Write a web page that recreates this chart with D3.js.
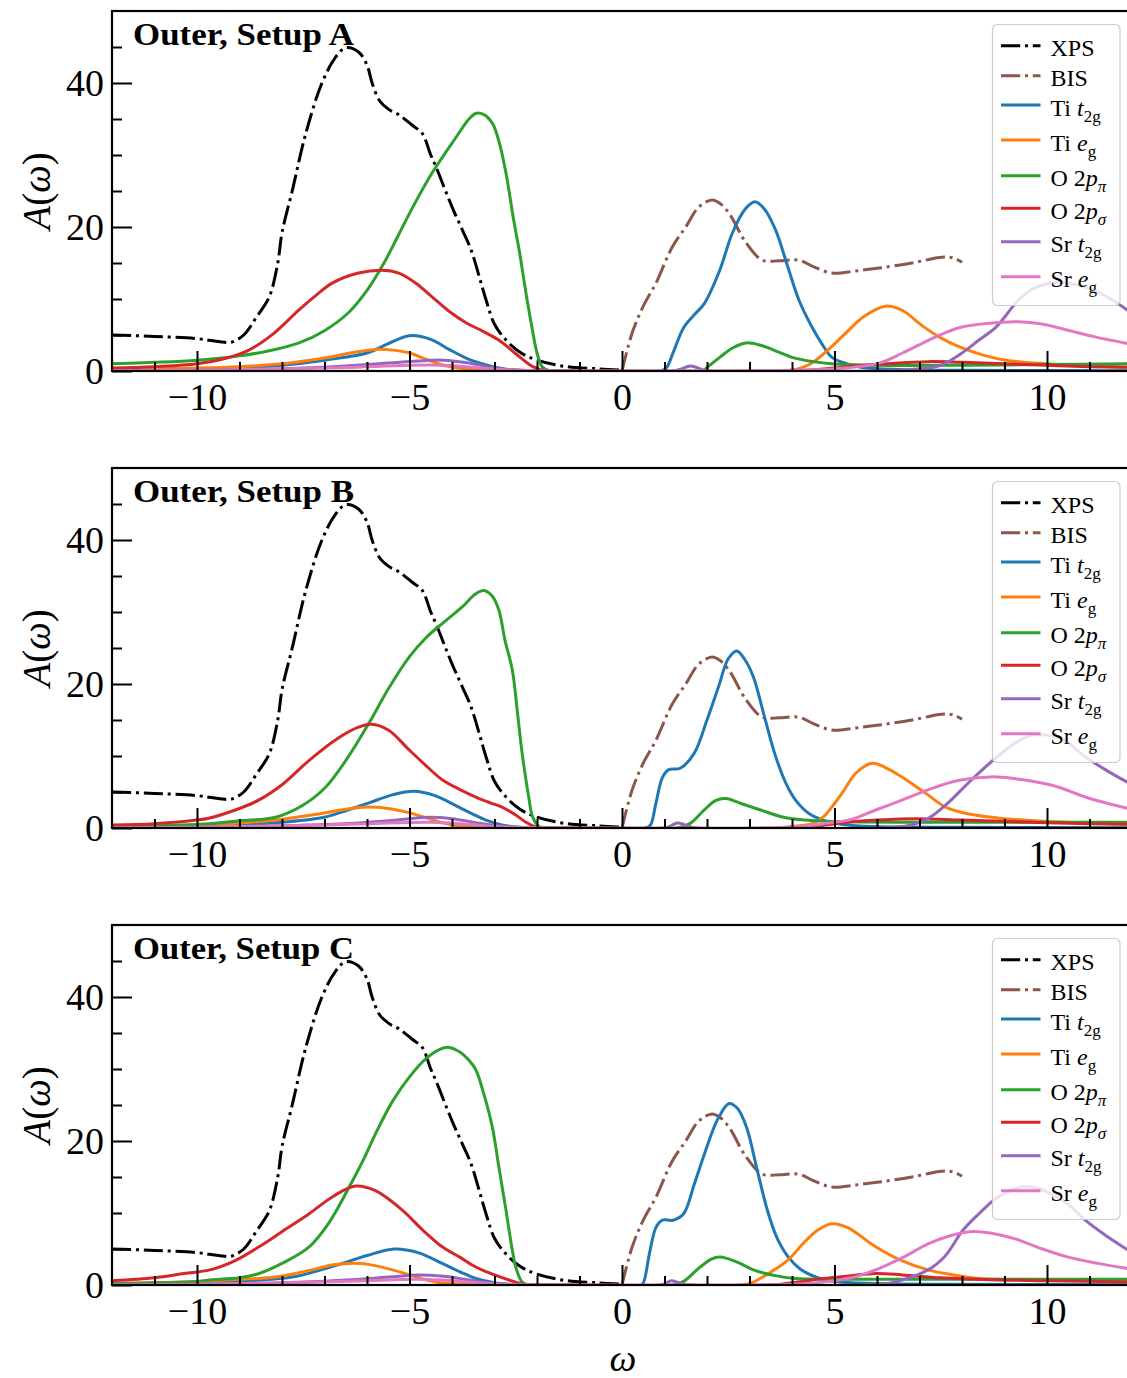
<!DOCTYPE html>
<html><head><meta charset="utf-8">
<script src="https://cdn.jsdelivr.net/npm/d3@7"></script>
<style>
body{margin:0;background:#fff}
svg{display:block}
text{font-family:"Liberation Serif","DejaVu Serif",serif;fill:#000}
</style>
</head><body>
<svg id="c" width="1127" height="1378"></svg>
<script>
// ---------- data (omega, A) ----------
const panelTitles = ["Outer, Setup A", "Outer, Setup B", "Outer, Setup C"];
const xMajorTicks = [-10, -5, 0, 5, 10];
const xMinorTicks = [-11,-9,-8,-7,-6,-4,-3,-2,-1,1,2,3,4,6,7,8,9,11];
const yMajorTicks = [0, 20, 40];
const yMinorTicks = [5, 10, 15, 25, 30, 35, 45];

const xps = [[-12,5.0],[-11,4.8],[-10,4.5],[-9.5,4.1],[-9.2,4.0],[-8.9,5.0],[-8.6,7.5],[-8.3,10.3],[-8.1,15],[-8.0,19.2],[-7.76,25],[-7.44,33],[-7.06,40],[-6.75,43.5],[-6.5,44.9],[-6.2,44.3],[-6.0,42.5],[-5.88,40],[-5.7,37.5],[-5.48,36.3],[-5.25,35.6],[-4.95,34.2],[-4.7,33],[-4.5,30],[-4.38,28.4],[-4.0,22.8],[-3.75,19.5],[-3.55,16.8],[-3.2,9.9],[-3.0,6.5],[-2.73,4.3],[-2.4,2.6],[-2.0,1.5],[-1.3,0.6],[-0.54,0.3],[0,0.1]];
const bis = [[0,0],[0.24,5.3],[0.5,9],[0.8,12.2],[1.18,17.2],[1.5,20],[1.81,22.8],[2.12,23.75],[2.3,23.3],[2.52,21.9],[2.92,17.8],[3.3,15.4],[3.7,15.3],[4.16,15.4],[4.5,14.5],[4.94,13.6],[5.5,13.9],[6.05,14.3],[6.82,15],[7.53,15.8],[7.8,15.7],[8.0,15.1]];

// Setup A
const tiT2gA = [[-12,0.1],[-10,0.2],[-9,0.4],[-8,0.8],[-7,1.5],[-6,2.5],[-5.5,3.8],[-5,4.9],[-4.5,4.4],[-4.07,3.0],[-3.6,1.6],[-3.3,1.0],[-2.8,0.3],[-2.2,0.05],[-1,0],[0.9,0],[1.04,0.4],[1.2,2.5],[1.45,6.0],[1.7,7.8],[1.94,9.4],[2.3,14],[2.6,19.2],[2.9,22.5],[3.13,23.5],[3.35,22.5],[3.62,19.5],[3.9,14.5],[4.16,9.9],[4.47,6.1],[4.7,3.8],[4.94,1.9],[5.3,1.0],[5.65,0.5],[6.5,0.2],[8,0.1],[12,0.05]];
const tiEgA = [[-12,0.2],[-10,0.4],[-9,0.6],[-8,1.0],[-7,1.8],[-6.3,2.6],[-5.8,3.0],[-5.4,2.9],[-5.0,2.5],[-4.6,1.6],[-4.2,0.8],[-3.7,0.3],[-3,0.05],[-1,0],[3.8,0],[4.2,0.4],[4.47,1.1],[4.9,3.2],[5.27,5.3],[5.7,7.6],[6.2,9.0],[6.6,8.4],[7.06,6.3],[7.5,4.6],[8.0,3.2],[8.5,2.2],[9.03,1.5],[10,1.0],[11,0.7],[12,0.5]];
const oPiA = [[-12,1.0],[-11,1.2],[-10,1.5],[-9,2.1],[-8.3,2.8],[-7.6,3.9],[-7,5.6],[-6.42,8.2],[-6,11.2],[-5.6,15.0],[-5.25,19],[-4.9,23],[-4.47,27.5],[-3.9,32.5],[-3.6,35],[-3.43,35.8],[-3.25,35.6],[-3.05,34.4],[-2.9,32],[-2.73,27.5],[-2.55,21],[-2.42,16.8],[-2.25,10.5],[-2.12,6.1],[-2.0,2.5],[-1.88,0.6],[-1.7,0.05],[1.9,0],[2.0,0.5],[2.3,1.9],[2.6,3.2],[2.92,3.9],[3.3,3.5],[3.7,2.6],[4.0,1.9],[4.5,1.3],[4.94,1.0],[6,0.8],[8,0.8],[10,0.9],[12,1.0]];
const oSigA = [[-12,0.4],[-11,0.6],[-10,1.0],[-9.3,1.8],[-8.78,2.9],[-8.2,5.2],[-7.6,8.5],[-7.2,10.5],[-6.82,12.2],[-6.2,13.6],[-5.65,14.0],[-5.25,13.6],[-4.85,12.2],[-4.47,10.3],[-4.07,8.3],[-3.67,6.7],[-3.3,5.6],[-2.9,4.3],[-2.5,2.4],[-2.1,0.6],[-1.8,0.05],[0,0],[4,0],[4.6,0.2],[5.3,0.6],[6.2,1.0],[7.2,1.3],[8,1.2],[9,1.0],[10,0.8],[11,0.6],[12,0.5]];
const srT2gA = [[-12,0.05],[-10,0.1],[-8,0.3],[-6.5,0.7],[-5.5,1.1],[-4.8,1.4],[-4.2,1.5],[-3.6,1.1],[-3.0,0.4],[-2.4,0.1],[-1,0],[1.2,0],[1.4,0.3],[1.6,0.7],[1.8,0.4],[2.0,0.05],[6,0],[6.8,0.2],[7.5,0.8],[8.0,2.5],[8.4,4.3],[8.8,6.1],[9.34,9.9],[9.7,11.5],[10.2,12.3],[10.6,12.1],[11.06,11.3],[11.5,10],[12,8.0]];
const srEgA = [[-12,0.05],[-10,0.1],[-8,0.3],[-6.5,0.5],[-5,0.8],[-4.2,0.8],[-3.5,0.5],[-2.8,0.2],[-2,0.05],[0,0],[4,0.1],[5,0.3],[6.05,1.1],[6.6,2.5],[7.22,4.3],[7.6,5.3],[8.0,6.1],[8.6,6.6],[9.25,6.85],[9.6,6.75],[10,6.4],[10.6,5.5],[11.15,4.7],[12,3.7]];

// Setup B
const tiT2gB = [[-12,0.1],[-10,0.2],[-9,0.4],[-8,0.8],[-7,1.5],[-6.5,2.4],[-5.95,3.5],[-5.4,4.6],[-4.9,5.1],[-4.4,4.5],[-3.84,2.9],[-3.5,1.9],[-3.2,1.1],[-2.8,0.4],[-2.3,0.05],[-1,0],[0.55,0],[0.67,0.4],[0.8,3.5],[0.95,7.0],[1.1,8.1],[1.37,8.3],[1.7,10.4],[2.0,15],[2.27,19.6],[2.5,23.5],[2.7,24.6],[2.9,23.3],[3.09,21],[3.35,15.5],[3.59,10.4],[3.85,6.3],[4.08,3.9],[4.4,2.0],[4.73,1.1],[5.2,0.5],[6,0.2],[8,0.1],[12,0.05]];
const tiEgB = [[-12,0.2],[-10,0.4],[-9,0.7],[-8.15,1.1],[-7.2,1.9],[-6.5,2.6],[-6.0,2.9],[-5.5,2.7],[-5.0,2.1],[-4.6,1.4],[-4.2,0.7],[-3.7,0.2],[-3,0.05],[-1,0],[3.6,0],[4.0,0.2],[4.47,0.6],[4.73,1.5],[5.0,3.4],[5.23,5.3],[5.5,7.6],[5.88,9.0],[6.2,8.4],[6.5,7.4],[6.79,6.3],[7.2,4.6],[7.61,2.9],[8.2,1.9],[8.84,1.4],[10,0.9],[11,0.7],[12,0.5]];
const oPiB = [[-12,0.2],[-11,0.3],[-10,0.5],[-9.7,0.6],[-9,1.0],[-8.15,1.5],[-7.5,3.2],[-6.97,5.7],[-6.45,9.8],[-5.95,14.6],[-5.5,19.3],[-5.0,23.8],[-4.6,26.5],[-4.23,28.4],[-3.76,30.7],[-3.45,32.5],[-3.25,33.0],[-3.05,32.2],[-2.9,30.3],[-2.75,26],[-2.58,21.9],[-2.45,15.5],[-2.35,10.4],[-2.2,4.5],[-2.1,1.5],[-1.95,0.2],[-1.7,0],[1.3,0],[1.62,0.7],[1.9,2.3],[2.2,3.8],[2.44,4.1],[2.8,3.4],[3.26,2.5],[3.8,1.5],[4.32,1.1],[5,0.9],[7,0.8],[10,0.8],[12,0.8]];
const oSigB = [[-12,0.4],[-11,0.6],[-10,1.1],[-9.7,1.4],[-9.1,2.5],[-8.54,3.9],[-8.0,6.0],[-7.36,9.4],[-6.7,12.4],[-6.2,14.0],[-5.9,14.4],[-5.5,13.6],[-5.0,10.8],[-4.6,8.6],[-4.23,6.7],[-3.8,5.3],[-3.44,4.3],[-3.1,3.5],[-2.82,2.9],[-2.5,1.8],[-2.26,0.8],[-2.0,0.1],[-1.7,0],[4,0],[4.6,0.3],[5.3,0.8],[6.0,1.1],[6.9,1.3],[8,1.1],[9.6,0.8],[11,0.6],[12,0.5]];
const srT2gB = [[-12,0.05],[-10,0.1],[-8,0.3],[-6.5,0.6],[-5.5,1.0],[-4.55,1.5],[-4.0,1.3],[-3.4,0.7],[-2.8,0.2],[-2.2,0.05],[-1,0],[1.0,0],[1.15,0.3],[1.3,0.7],[1.5,0.4],[1.7,0.05],[6,0],[6.8,0.4],[7.2,1.3],[7.6,3.1],[8.26,6.9],[8.85,10],[9.3,12],[9.66,12.9],[10.0,12.9],[10.4,12.2],[10.9,9.9],[11.4,8.0],[12,6.0]];
const srEgB = [[-12,0.05],[-10,0.1],[-8,0.3],[-6,0.6],[-4.5,0.8],[-3.8,0.6],[-3,0.2],[-2,0.05],[0,0],[4,0.1],[4.73,0.6],[5.4,1.2],[5.97,2.5],[6.6,3.9],[7.2,5.3],[7.9,6.6],[8.68,7.1],[9.3,6.8],[10.07,6.0],[10.5,5.2],[10.9,4.3],[11.5,3.3],[12,2.6]];

// Setup C
const tiT2gC = [[-12,0.1],[-10,0.3],[-9,0.5],[-7.76,1.1],[-7.2,1.9],[-6.58,3.0],[-6,4.1],[-5.36,5.0],[-4.8,4.5],[-4.23,3.0],[-3.8,1.8],[-3.44,0.9],[-3,0.3],[-2.5,0.05],[-1,0],[0.45,0],[0.51,0.4],[0.65,4.5],[0.8,8.0],[0.95,9.0],[1.2,9.0],[1.45,9.9],[1.7,14],[1.94,18.2],[2.25,23],[2.52,25.2],[2.72,24.5],[2.93,21.9],[3.2,15.5],[3.42,10.4],[3.65,6.5],[3.91,3.9],[4.2,2.2],[4.57,1.1],[5,0.5],[6,0.2],[8,0.1],[12,0.05]];
const tiEgC = [[-12,0.2],[-10,0.5],[-9,0.8],[-8.15,1.1],[-7.3,2.1],[-6.8,2.8],[-6.42,3.0],[-6,2.9],[-5.4,2.1],[-5.0,1.4],[-4.6,0.7],[-4.1,0.2],[-3.5,0.05],[-1,0],[2.8,0],[3.09,0.4],[3.5,1.8],[3.91,3.5],[4.3,6.0],[4.6,7.6],[4.94,8.5],[5.3,8.0],[5.97,5.3],[6.5,3.6],[7.2,2.1],[7.8,1.4],[8.42,0.9],[10,0.7],[12,0.5]];
const oPiC = [[-12,0.2],[-11,0.3],[-10,0.5],[-9.7,0.7],[-9,1.0],[-8.54,1.6],[-8,3.0],[-7.36,5.3],[-6.9,8.6],[-6.42,13.6],[-6.1,17.2],[-5.8,21],[-5.4,25.5],[-5.0,28.9],[-4.6,31.5],[-4.3,32.7],[-4.07,33.0],[-3.8,32.3],[-3.6,31.2],[-3.44,29.9],[-3.25,26.5],[-3.05,21.9],[-2.9,16.5],[-2.73,10.4],[-2.6,5.5],[-2.5,2.5],[-2.35,0.4],[-2.2,0],[1.2,0],[1.45,0.5],[1.8,2.3],[2.1,3.6],[2.31,3.9],[2.7,3.2],[3.09,2.1],[3.6,1.3],[4.07,0.9],[5,0.8],[8,0.8],[12,0.8]];
const oSigC = [[-12,0.6],[-11,1.0],[-10.3,1.6],[-9.7,2.1],[-9.1,3.4],[-8.54,5.3],[-7.9,7.8],[-7.36,9.9],[-6.8,12.3],[-6.27,13.75],[-5.8,13.1],[-5.17,10.4],[-4.7,7.7],[-4.23,5.3],[-3.8,3.8],[-3.44,2.5],[-3.0,1.4],[-2.66,0.7],[-2.3,0.1],[-2.0,0],[3.5,0],[4.0,0.3],[4.73,0.9],[5.4,1.3],[5.97,1.6],[6.6,1.4],[7.5,1.0],[8.84,0.7],[10,0.6],[12,0.4]];
const srT2gC = [[-12,0.05],[-10,0.1],[-8,0.3],[-6.5,0.7],[-5.5,1.1],[-4.78,1.4],[-4.2,1.2],[-3.6,0.7],[-3,0.2],[-2.4,0.05],[-1,0],[0.9,0],[1.05,0.3],[1.16,0.6],[1.35,0.3],[1.55,0.05],[5.8,0],[6.4,0.4],[7.2,2.1],[7.6,4.0],[8.02,7.6],[8.4,9.9],[8.84,12.2],[9.41,13.6],[9.8,13.4],[10.07,12.7],[10.5,11.2],[10.9,9.0],[11.4,6.8],[12,4.5]];
const srEgC = [[-12,0.05],[-10,0.1],[-8,0.3],[-6,0.6],[-4.8,0.8],[-4,0.6],[-3.2,0.2],[-2.4,0.05],[0,0],[4,0.1],[4.73,0.4],[5.4,1.0],[5.97,2.1],[6.6,3.8],[7.2,5.7],[7.7,6.8],[8.18,7.4],[8.7,7.2],[9.25,6.4],[9.8,5.2],[10.48,3.9],[11.2,3.0],[12,2.2]];

const seriesColors = ["#000000","#8c564b","#1f77b4","#ff7f0e","#2ca02c","#d62728","#9467bd","#e377c2"];
const seriesDashed = [true, true, false, false, false, false, false, false];

// ---------- layout ----------
const W = 1127;
const plotLeft = 112, plotRight = 1132, plotH = 360, panelTop0 = 11, panelStep = 457;
const lw = 3;

const panels = [
  [xps, bis, tiT2gA, tiEgA, oPiA, oSigA, srT2gA, srEgA],
  [xps, bis, tiT2gB, tiEgB, oPiB, oSigB, srT2gB, srEgB],
  [xps, bis, tiT2gC, tiEgC, oPiC, oSigC, srT2gC, srEgC]
];

const svg = d3.select("#c");
svg.append("rect").attr("width", W).attr("height", 1378).attr("fill", "#fff");
const defs = svg.append("defs");

const SUB = "17px", SUBDY = 6;
const legendLabels = [
  s => s.append("tspan").text("XPS"),
  s => s.append("tspan").text("BIS"),
  s => { s.append("tspan").text("Ti "); s.append("tspan").attr("font-style","italic").text("t"); s.append("tspan").attr("font-size",SUB).attr("dy",SUBDY).text("2g"); },
  s => { s.append("tspan").text("Ti "); s.append("tspan").attr("font-style","italic").text("e"); s.append("tspan").attr("font-size",SUB).attr("dy",SUBDY).text("g"); },
  s => { s.append("tspan").text("O 2"); s.append("tspan").attr("font-style","italic").text("p"); s.append("tspan").attr("font-size",SUB).attr("font-style","italic").attr("dy",SUBDY).text("π"); },
  s => { s.append("tspan").text("O 2"); s.append("tspan").attr("font-style","italic").text("p"); s.append("tspan").attr("font-size",SUB).attr("font-style","italic").attr("dy",SUBDY).text("σ"); },
  s => { s.append("tspan").text("Sr "); s.append("tspan").attr("font-style","italic").text("t"); s.append("tspan").attr("font-size",SUB).attr("dy",SUBDY).text("2g"); },
  s => { s.append("tspan").text("Sr "); s.append("tspan").attr("font-style","italic").text("e"); s.append("tspan").attr("font-size",SUB).attr("dy",SUBDY).text("g"); }
];
const legendRowY = [34.7, 64.7, 94, 129, 164.7, 197.3, 230.7, 265.7];

panels.forEach((series, pi) => {
  const top = panelTop0 + pi * panelStep;
  const x = d3.scaleLinear().domain([-12, 12]).range([plotLeft, plotRight]);
  const y = d3.scaleLinear().domain([0, 50]).range([top + plotH, top]);
  const g = svg.append("g");

  const clipId = "clip" + pi;
  defs.append("clipPath").attr("id", clipId).append("rect")
    .attr("x", plotLeft).attr("y", top).attr("width", plotRight - plotLeft).attr("height", plotH);

  const line = d3.line().x(d => x(d[0])).y(d => y(d[1])).curve(d3.curveCatmullRom.alpha(0.5));
  const lines = g.append("g").attr("clip-path", `url(#${clipId})`);
  series.forEach((data, si) => {
    lines.append("path").datum(data).attr("d", line)
      .attr("fill", "none").attr("stroke", seriesColors[si]).attr("stroke-width", lw)
      .attr("stroke-linejoin", "round")
      .attr("stroke-dasharray", seriesDashed[si] ? "19.2,4.8,3,4.8" : null);
  });

  // axes
  const xMaj = d3.axisBottom(x).tickValues(xMajorTicks).tickSize(-20).tickPadding(12).tickFormat(d3.format("d"));
  const xMin = d3.axisBottom(x).tickValues(xMinorTicks).tickSize(-9).tickFormat("");
  const yMaj = d3.axisLeft(y).tickValues(yMajorTicks).tickSize(-20).tickPadding(8).tickFormat(d3.format("d"));
  const yMin = d3.axisLeft(y).tickValues(yMinorTicks).tickSize(-10).tickFormat("");
  [[xMaj, `translate(0,${top + plotH})`], [xMin, `translate(0,${top + plotH})`],
   [yMaj, `translate(${plotLeft},0)`], [yMin, `translate(${plotLeft},0)`]].forEach(([ax, tr]) => {
    const ag = g.append("g").attr("transform", tr).call(ax);
    ag.select(".domain").remove();
    ag.selectAll("line").attr("stroke", "#000").attr("stroke-width", 2);
    ag.selectAll("text").attr("font-size", "38px").attr("font-family", '"Liberation Serif",serif').attr("fill", "#000");
  });

  // spines
  g.append("rect").attr("x", plotLeft).attr("y", top).attr("width", plotRight - plotLeft).attr("height", plotH)
    .attr("fill", "none").attr("stroke", "#000").attr("stroke-width", 2.2);

  // title
  g.append("text").attr("x", 133).attr("y", top + 34).attr("font-size", "31px").attr("font-weight", "bold")
    .attr("textLength", 221).attr("lengthAdjust", "spacingAndGlyphs")
    .text(panelTitles[pi]);

  // y label
  const yl = g.append("text").attr("transform", `translate(50,${top + 180}) rotate(-90)`)
    .attr("text-anchor", "middle").attr("font-size", "39px");
  yl.append("tspan").attr("font-style", "italic").text("A");
  yl.append("tspan").text("(");
  yl.append("tspan").attr("font-style", "italic").text("ω");
  yl.append("tspan").text(")");

  // legend
  const lg = g.append("g").attr("transform", `translate(992.5,${top + 13.5})`);
  lg.append("rect").attr("width", 127.5).attr("height", 281).attr("rx", 5)
    .attr("fill", "#fff").attr("fill-opacity", 0.8).attr("stroke", "#cccccc").attr("stroke-width", 1.2);
  legendRowY.forEach((ry, si) => {
    const yy = ry - 13.5;
    lg.append("line").attr("x1", 8.5).attr("x2", 48).attr("y1", yy).attr("y2", yy)
      .attr("stroke", seriesColors[si]).attr("stroke-width", lw)
      .attr("stroke-dasharray", seriesDashed[si] ? "19.2,4.8,3,4.8" : null);
    const t = lg.append("text").attr("x", 58).attr("y", yy + 10.5).attr("font-size", "24px");
    legendLabels[si](t);
  });
});

// x label
svg.append("text").attr("x", 623).attr("y", 1371).attr("text-anchor", "middle")
  .attr("font-size", "38px").attr("font-style", "italic").text("ω");
</script>
</body></html>
